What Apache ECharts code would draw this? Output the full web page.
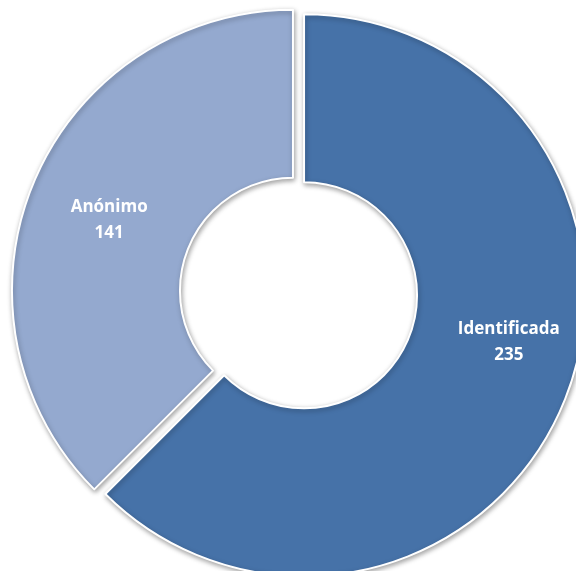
<!DOCTYPE html>
<html>
<head>
<meta charset="utf-8">
<script src="https://cdn.jsdelivr.net/npm/echarts@6/dist/echarts.min.js"></script>
<style>
  html, body { margin: 0; padding: 0; background: #ffffff; }
  #chart { width: 576px; height: 571px; }
</style>
</head>
<body>
<div id="chart"></div>
<script>
// Tipo de denuncia
const categorias = ['Identificada', 'Anónimo'];
const valores = [235, 141];
const colores = ['#4672A8', '#94A9CF'];
// Ajuste fino de la posición de cada etiqueta (px)
const ajustesEtiqueta = [[20, -30], [1, 6]];

const chart = echarts.init(document.getElementById('chart'), null, { renderer: 'canvas' });

const data = categorias.map((nombre, i) => ({
  name: nombre,
  value: valores[i],
  selected: true,
  itemStyle: { color: colores[i] }
}));

chart.setOption({
  animation: false,
  backgroundColor: '#ffffff',
  series: [{
    type: 'pie',
    center: [298.5, 293],
    radius: [113, 281],
    startAngle: 90,
    clockwise: true,
    selectedMode: 'multiple',
    selectedOffset: 6,
    avoidLabelOverlap: false,
    itemStyle: {
      borderColor: '#ffffff',
      borderWidth: 2,
      shadowBlur: 5,
      shadowOffsetX: 1,
      shadowOffsetY: 2,
      shadowColor: 'rgba(0,0,0,0.35)'
    },
    label: {
      show: true,
      position: 'inside',
      formatter: '{b}\n{c}',
      color: '#ffffff',
      fontFamily: 'Open Sans',
      fontWeight: 'bold',
      fontSize: 17,
      lineHeight: 26,
      align: 'center'
    },
    labelLayout: function (params) {
      const a = ajustesEtiqueta[params.dataIndex];
      return { dx: a[0], dy: a[1] };
    },
    labelLine: { show: false },
    emphasis: { disabled: true },
    data: data
  }]
});
</script>
</body>
</html>
